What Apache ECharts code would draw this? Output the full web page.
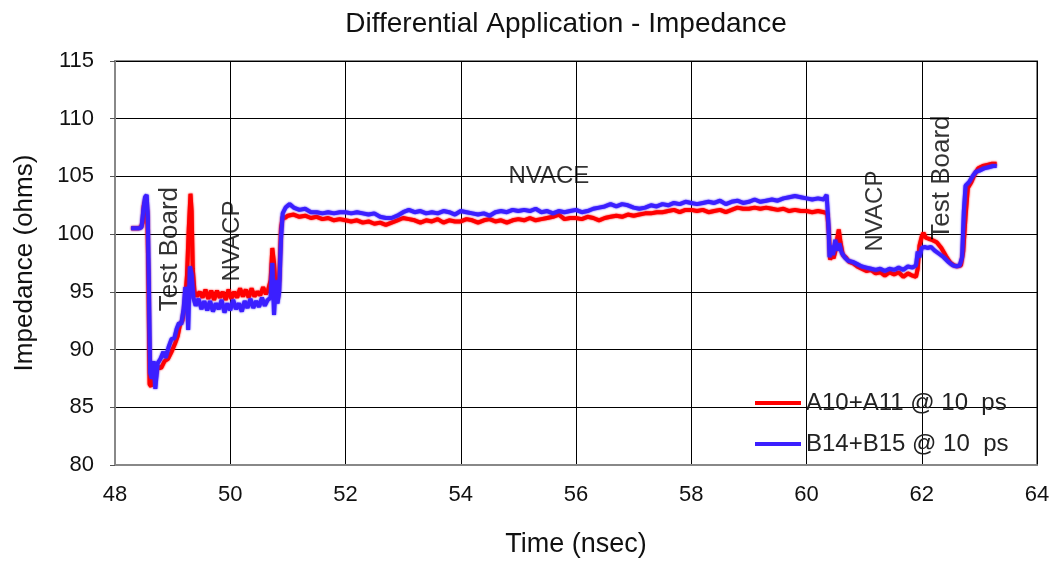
<!DOCTYPE html>
<html>
<head>
<meta charset="utf-8">
<title>Differential Application - Impedance</title>
<script src="https://cdn.jsdelivr.net/npm/echarts@6/dist/echarts.min.js"></script>
<style>
  html, body { margin: 0; padding: 0; background: #fff; }
  #chart { width: 1054px; height: 563px; }
</style>
</head>
<body>
<div id="chart"></div>
<script>
// Time (nsec), impedance (ohms) pairs for each trace
const seriesNames = ['A10+A11 @ 10  ps', 'B14+B15 @ 10  ps'];

const traceA = [
  [48.28,100.5],[48.40,100.5],[48.45,100.6],[48.48,101.0],[48.50,102.5],[48.53,103.0],[48.56,102.0],
  [48.58,96.0],[48.60,87.0],[48.63,86.8],[48.66,88.0],[48.70,87.6],[48.74,88.5],[48.80,88.4],
  [48.86,89.0],[48.92,89.2],[48.98,89.8],[49.04,90.5],[49.09,91.2],[49.13,92.2],[49.17,92.5],
  [49.21,93.8],[49.25,96.5],[49.28,100.5],[49.31,103.5],[49.33,102.0],[49.35,97.0],[49.38,95.0],
  [49.42,94.6],[49.47,95.0],[49.52,94.5],[49.57,95.2],[49.62,94.4],[49.67,95.1],[49.72,94.3],
  [49.77,95.1],[49.82,94.5],[49.87,95.0],[49.92,94.3],[49.97,95.2],[50.02,94.4],[50.07,95.0],
  [50.12,94.5],[50.17,95.3],[50.22,94.6],[50.27,95.2],[50.32,94.5],[50.37,95.3],[50.42,94.6],
  [50.47,95.0],[50.52,94.7],[50.57,95.4],[50.62,94.8],[50.66,95.2],[50.70,96.0],[50.73,98.8],
  [50.76,97.5],[50.79,95.0],[50.82,94.5],[50.85,96.0],[50.88,100.5],[50.91,101.5],[50.95,101.4],
  [51.0,101.6],[51.1,101.7],[51.2,101.5],[51.3,101.6],[51.4,101.4],[51.5,101.5],[51.6,101.3],
  [51.7,101.4],[51.8,101.2],[51.9,101.3],[52.0,101.2],[52.1,101.1],[52.2,101.2],[52.3,101.0],
  [52.4,101.1],[52.5,100.9],[52.6,101.0],[52.7,100.8],[52.8,101.0],[52.9,101.2],[53.0,101.4],
  [53.1,101.3],[53.2,101.2],[53.3,101.0],[53.4,101.2],[53.5,101.1],[53.6,101.3],[53.7,101.0],
  [53.8,101.2],[53.9,101.1],[54.0,101.1],[54.1,101.3],[54.2,101.2],[54.3,101.0],[54.4,101.2],
  [54.5,101.3],[54.6,101.1],[54.7,101.2],[54.8,101.0],[54.9,101.2],[55.0,101.3],[55.1,101.2],
  [55.2,101.4],[55.3,101.2],[55.4,101.3],[55.5,101.4],[55.6,101.5],[55.7,101.7],[55.8,101.3],
  [55.9,101.4],[56.0,101.4],[56.1,101.3],[56.2,101.5],[56.3,101.4],[56.4,101.2],[56.5,101.4],
  [56.6,101.5],[56.7,101.6],[56.8,101.5],[56.9,101.7],[57.0,101.6],[57.1,101.7],[57.2,101.8],
  [57.3,101.8],[57.4,101.9],[57.5,101.9],[57.6,102.0],[57.7,102.1],[57.8,101.9],[57.9,102.1],
  [58.0,102.1],[58.1,102.0],[58.2,102.1],[58.3,101.9],[58.4,102.0],[58.5,102.1],[58.6,101.9],
  [58.7,102.1],[58.8,102.3],[58.9,102.2],[59.0,102.2],[59.1,102.3],[59.2,102.2],[59.3,102.3],
  [59.4,102.2],[59.5,102.1],[59.6,102.2],[59.7,102.0],[59.8,102.1],[59.9,102.0],[60.0,102.0],
  [60.1,101.9],[60.2,102.0],[60.3,101.9],[60.36,101.8],[60.39,100.0],[60.41,97.8],[60.44,98.2],
  [60.47,97.9],[60.50,98.5],[60.53,99.5],[60.56,100.4],[60.59,99.3],[60.63,98.2],[60.68,98.0],
  [60.74,97.6],[60.80,97.5],[60.88,97.2],[60.96,97.0],[61.04,96.8],[61.12,96.9],[61.2,96.6],
  [61.28,96.7],[61.36,96.4],[61.44,96.7],[61.52,96.5],[61.6,96.7],[61.68,96.3],[61.76,96.6],
  [61.84,96.4],[61.9,96.3],[61.93,97.0],[61.96,99.0],[62.0,99.8],[62.03,100.1],[62.07,99.7],
  [62.12,99.6],[62.18,99.5],[62.26,99.3],[62.34,98.8],[62.42,98.1],[62.5,97.5],[62.56,97.3],
  [62.62,97.2],[62.68,97.3],[62.72,98.5],[62.76,101.5],[62.8,104.0],[62.86,104.5],[62.92,105.2],
  [62.98,105.7],[63.06,105.9],[63.14,106.0],[63.22,106.1],[63.3,106.1]
];

const traceB = [
  [48.28,100.5],[48.42,100.5],[48.46,100.6],[48.49,102.0],[48.52,103.2],[48.55,103.4],[48.57,101.5],
  [48.59,95.0],[48.61,88.0],[48.64,87.5],[48.67,89.0],[48.70,86.6],[48.74,88.8],[48.79,89.2],
  [48.84,89.8],[48.88,89.3],[48.93,90.2],[48.98,90.9],[49.03,91.0],[49.07,91.8],[49.11,92.3],
  [49.15,92.2],[49.19,93.5],[49.22,95.4],[49.25,94.8],[49.27,91.7],[49.30,97.2],[49.33,96.5],
  [49.36,94.5],[49.40,93.8],[49.45,94.4],[49.50,93.5],[49.55,94.2],[49.60,93.4],[49.65,94.2],
  [49.70,93.3],[49.75,94.0],[49.80,93.5],[49.85,94.3],[49.90,93.2],[49.95,94.0],[50.00,93.4],
  [50.05,94.3],[50.10,93.5],[50.15,94.0],[50.20,93.3],[50.25,94.2],[50.30,93.6],[50.35,94.4],
  [50.40,93.6],[50.45,94.2],[50.50,93.7],[50.55,94.5],[50.60,93.8],[50.65,94.3],[50.70,94.5],
  [50.73,97.5],[50.76,93.0],[50.79,96.0],[50.82,94.0],[50.85,95.0],[50.88,99.5],[50.91,101.8],
  [50.96,102.3],[51.03,102.6],[51.1,102.3],[51.2,102.1],[51.3,102.2],[51.4,101.9],[51.5,101.9],
  [51.6,101.8],[51.7,101.9],[51.8,101.8],[51.9,101.9],[52.0,101.9],[52.1,101.8],[52.2,101.9],
  [52.3,101.8],[52.4,101.7],[52.5,101.8],[52.6,101.5],[52.7,101.4],[52.8,101.4],[52.9,101.6],
  [53.0,101.9],[53.1,102.1],[53.2,101.9],[53.3,102.0],[53.4,101.8],[53.5,101.9],[53.6,101.8],
  [53.7,102.0],[53.8,101.9],[53.9,101.7],[54.0,102.0],[54.1,101.9],[54.2,101.8],[54.3,101.7],
  [54.4,101.8],[54.5,101.6],[54.6,101.9],[54.7,102.0],[54.8,101.9],[54.9,102.1],[55.0,102.0],
  [55.1,102.1],[55.2,102.0],[55.3,102.2],[55.4,101.9],[55.5,102.0],[55.6,101.8],[55.7,102.0],
  [55.8,101.9],[55.9,102.0],[56.0,102.1],[56.1,101.9],[56.2,102.0],[56.3,102.2],[56.4,102.3],
  [56.5,102.4],[56.6,102.6],[56.7,102.4],[56.8,102.6],[56.9,102.5],[57.0,102.3],[57.1,102.2],
  [57.2,102.3],[57.3,102.5],[57.4,102.4],[57.5,102.6],[57.6,102.5],[57.7,102.7],[57.8,102.6],
  [57.9,102.8],[58.0,102.7],[58.1,102.6],[58.2,102.7],[58.3,102.8],[58.4,102.7],[58.5,102.9],
  [58.6,102.6],[58.7,102.8],[58.8,102.9],[58.9,102.7],[59.0,102.8],[59.1,103.0],[59.2,102.8],
  [59.3,102.9],[59.4,103.0],[59.5,102.9],[59.6,103.1],[59.7,103.2],[59.8,103.3],[59.9,103.2],
  [60.0,103.1],[60.1,103.0],[60.2,103.1],[60.3,103.0],[60.35,103.4],[60.38,101.0],[60.40,98.0],
  [60.43,99.0],[60.46,98.2],[60.50,99.5],[60.53,98.6],[60.57,99.2],[60.61,98.4],[60.66,98.0],
  [60.72,97.7],[60.80,97.6],[60.88,97.4],[60.96,97.2],[61.04,97.1],[61.12,97.0],[61.2,96.9],
  [61.28,97.0],[61.36,96.8],[61.44,97.0],[61.52,96.9],[61.6,97.1],[61.68,96.9],[61.76,97.2],
  [61.84,97.1],[61.9,97.3],[61.93,98.5],[61.96,98.0],[62.0,98.8],[62.05,98.9],[62.1,98.8],
  [62.16,98.9],[62.22,98.6],[62.3,98.3],[62.38,98.0],[62.46,97.6],[62.54,97.3],[62.6,97.2],
  [62.66,97.3],[62.70,98.0],[62.73,102.0],[62.76,104.2],[62.82,104.5],[62.88,105.0],[62.94,105.4],
  [63.0,105.5],[63.08,105.7],[63.16,105.8],[63.24,105.9],[63.3,105.9]
];

// Section labels placed at [time, impedance]
const sectionLabels = [
  { text: 'Test Board', at: [48.95, 98.7], vertical: true },
  { text: 'NVACP',      at: [50.03, 99.4], vertical: true },
  { text: 'NVACE',      at: [55.53, 105.0], vertical: false },
  { text: 'NVACP',      at: [61.2, 102.0], vertical: true },
  { text: 'Test Board', at: [62.35, 104.9], vertical: true }
];

const xTicks = { min: 48, max: 64, step: 2 };
const yTicks = { min: 80, max: 115, step: 5 };

const FONT = '"Liberation Sans", Arial, sans-serif';
const colors = ['#ff0000', '#3b1fff'];

const chart = echarts.init(document.getElementById('chart'), null, { renderer: 'canvas' });

const lineSeries = [traceA, traceB].map((d, i) => ({
  name: seriesNames[i],
  type: 'line',
  data: d,
  showSymbol: false,
  symbol: 'none',
  smooth: false,
  z: 3 + i,
  lineStyle: {
    color: colors[i],
    width: 4,
    shadowColor: colors[i],
    shadowBlur: 2
  },
  itemStyle: { color: colors[i] },
  emphasis: { disabled: true }
}));

const labelSeries = sectionLabels.map(l => ({
  type: 'scatter',
  data: [l.at],
  symbolSize: 0,
  silent: true,
  z: 10,
  label: {
    show: true,
    position: 'inside',
    formatter: l.text,
    rotate: l.vertical ? 90 : 0,
    fontFamily: FONT,
    fontSize: l.text === 'Test Board' ? 26 : 24,
    color: '#000',
    textBorderWidth: 0
  }
}));

chart.setOption({
  animation: false,
  backgroundColor: '#fff',
  textStyle: { fontFamily: FONT },
  title: {
    text: 'Differential Application - Impedance',
    left: 561,
    textAlign: 'center',
    top: 5,
    textStyle: { fontFamily: FONT, fontSize: 28, fontWeight: 'normal', color: '#111' }
  },
  legend: {
    data: seriesNames,
    orient: 'vertical',
    left: 750,
    top: 386,
    itemWidth: 46,
    itemHeight: 4,
    itemGap: 17,
    icon: 'rect',
    textStyle: { fontFamily: FONT, fontSize: 24, color: '#222' }
  },
  grid: {
    left: 115, top: 61, width: 922, height: 408,
    show: true, borderColor: '#888', borderWidth: 2, containLabel: false
  },
  xAxis: {
    type: 'value',
    min: xTicks.min, max: xTicks.max, interval: xTicks.step,
    name: 'Time (nsec)',
    nameLocation: 'middle',
    nameGap: 66,
    nameTextStyle: { fontFamily: FONT, fontSize: 27, color: '#111' },
    axisLine: { show: true, onZero: false, lineStyle: { color: '#888', width: 2 } },
    axisTick: { show: false },
    axisLabel: { fontFamily: FONT, fontSize: 22, color: '#111', margin: 19 },
    splitLine: { show: true, lineStyle: { color: '#000', width: 1 } }
  },
  yAxis: {
    type: 'value',
    min: yTicks.min, max: yTicks.max, interval: yTicks.step,
    name: 'Impedance (ohms)',
    nameLocation: 'middle',
    nameGap: 77,
    nameRotate: 90,
    nameTextStyle: { fontFamily: FONT, fontSize: 26, color: '#111' },
    axisLine: { show: true, onZero: false, lineStyle: { color: '#888', width: 2 } },
    axisTick: { show: true, inside: false, length: 5, lineStyle: { color: '#555' } },
    axisLabel: { fontFamily: FONT, fontSize: 22, color: '#111', margin: 21 },
    splitLine: { show: true, lineStyle: { color: '#000', width: 1 } }
  },
  series: lineSeries.concat(labelSeries)
});
</script>
</body>
</html>
